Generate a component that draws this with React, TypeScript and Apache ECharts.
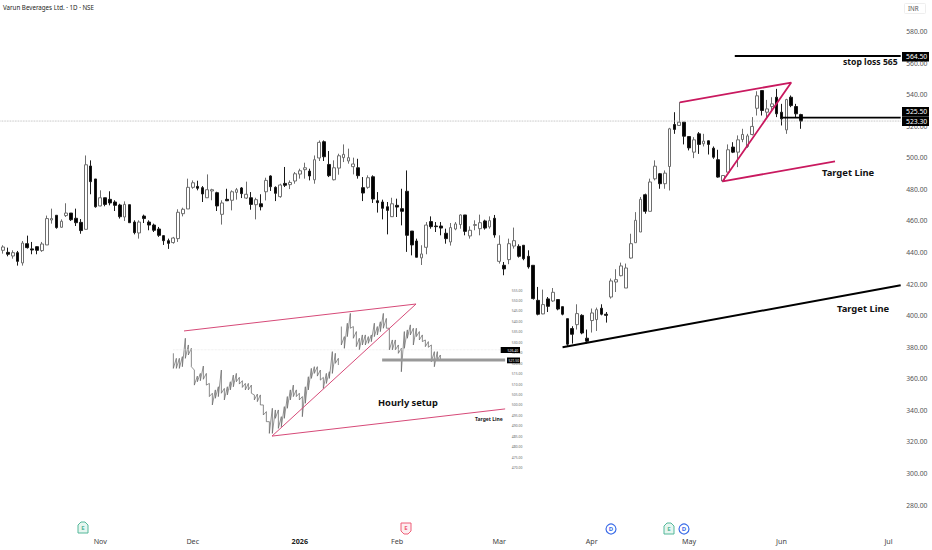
import React, { useEffect, useRef } from "react";
import * as echarts from "echarts";

const title = "Varun Beverages Ltd. · 1D · NSE";
const monthTicks: [number, string][] = [[20, "Nov"], [39, "Dec"], [61, "2026"], [81, "Feb"], [102, "Mar"], [121, "Apr"], [141, "May"], [160, "Jun"], [182, "Jul"]];
const slotCount = 185;

// [open, close, low, high]
const candlesAutumn = [
  [441.4,443.5,439.3,444.6],[440.1,438.9,437.6,443.1],[437.8,439.9,436.1,441.4],[439.9,434.4,431.7,441.0],[433.4,446.0,431.7,447.3],[445.6,443.1,442.5,450.7],[442.3,441.6,438.9,446.7],[443.7,441.4,438.9,443.9],[441.2,445.4,440.4,446.7],[444.8,461.5,444.8,463.4],
  [460.6,461.5,458.3,467.8],[463.6,455.8,455.1,463.6],[456.0,459.8,455.8,461.0],[463.4,465.0,462.5,471.2],[465.0,460.8,460.0,465.0],[461.7,458.9,456.8,467.8],[459.1,453.9,451.9,461.2],[454.7,495.6,454.7,501.5],[494.8,484.9,476.9,498.4],[486.6,469.0,468.4,486.6],
  [469.5,474.7,469.3,479.4],[474.7,470.5,469.3,474.7],[473.7,471.4,469.9,478.8],[472.0,469.9,466.3,473.1],[470.1,462.7,461.5,470.9],[462.5,470.5,460.0,472.4],[470.3,458.9,458.9,470.3],[459.3,452.6,451.5,460.4],[452.4,459.3,448.8,460.4],[463.1,461.5,458.7,464.0],
  [459.3,457.4,454.1,460.4],[457.4,454.1,453.0,458.3],[454.9,450.9,449.9,456.2],[450.7,447.5,444.8,450.9],[447.5,445.8,442.3,448.8],[446.3,449.2,445.6,449.9],[448.8,465.5,446.7,467.4],[464.6,467.4,462.9,468.4],[467.6,481.3,467.6,486.8],[481.3,484.2,480.4,485.7],
  [481.9,480.7,479.4,485.5],[481.1,477.1,472.0,482.1],[474.7,479.8,474.7,489.5],[479.0,479.8,473.1,480.4],[477.9,469.5,466.3,478.5],[464.2,471.4,457.7,473.1],[473.7,472.8,472.6,480.4],[473.1,478.5,466.7,479.4],[478.1,479.8,473.5,480.9],[480.9,477.3,474.5,481.5],
  [474.5,476.9,473.9,484.9],[474.7,470.5,467.1,478.3],[470.3,473.5,461.0,474.7],[470.9,469.0,466.7,476.9],[478.5,485.7,473.0,487.4],
];
const candlesWinter = [
  [488.5,481.7,479.0,488.9],[481.3,477.5,472.6,481.9],[475.4,482.8,474.7,483.6],[483.8,482.6,481.5,494.2],[483.0,484.4,480.2,485.7],[485.3,489.9,483.6,491.0],[489.7,491.8,486.8,493.1],[492.5,493.7,486.8,496.9],[491.6,488.5,485.7,493.1],[486.1,498.8,483.6,501.5],
  [499.9,509.8,498.0,511.0],[510.2,500.7,498.0,511.0],[495.8,488.7,487.8,504.3],[486.1,493.7,485.7,498.4],[493.5,501.3,489.3,502.6],[500.1,502.2,497.3,508.5],[498.0,500.1,496.3,505.8],[494.4,496.1,489.5,500.1],[493.7,488.7,486.8,499.4],[481.1,477.7,472.6,487.8],
  [481.3,487.4,480.4,488.9],[488.0,473.9,471.4,488.9],[472.8,471.6,465.3,478.3],[472.0,468.0,461.0,473.5],[469.0,466.7,451.5,472.0],[462.7,470.9,462.5,474.7],[469.9,468.8,462.5,474.1],[467.8,466.1,457.2,480.4],[478.8,450.9,440.4,492.0],[453.6,444.8,438.2,453.6],
  [447.3,437.0,437.0,448.8],[436.6,439.1,432.1,444.6],[443.3,457.4,438.9,459.3],[459.6,456.4,455.1,462.9],[456.8,456.4,453.0,459.3],[456.8,455.5,450.9,459.3],[452.2,448.8,445.6,455.1],[446.7,455.8,444.4,458.7],[454.9,458.1,454.1,459.3],[457.7,463.8,455.1,464.2],
  [463.8,453.4,450.9,463.8],[450.5,454.1,448.8,456.6],[457.2,457.7,454.1,460.4],[455.1,458.9,450.9,464.0],[460.0,455.5,454.5,460.8],[456.2,460.2,455.1,462.9],[461.7,451.1,449.4,463.8],[434.4,445.2,433.0,450.9],[431.9,429.6,425.6,434.0],[435.5,445.6,432.6,448.8],
  [444.1,447.5,442.5,455.8],[443.9,437.6,436.8,445.2],[444.6,436.1,435.1,444.6],[437.6,430.9,429.8,441.4],
];
const candlesSpring = [
  [431.9,410.8,410.2,431.9],[409.7,400.9,400.2,418.2],[401.1,407.0,400.9,416.5],[410.6,405.9,402.3,411.8],[409.3,414.8,408.7,417.5],[410.2,404.2,403.4,410.2],[405.7,400.9,400.2,405.7],[398.1,381.9,380.8,398.1],[391.8,388.2,382.3,393.3],[394.3,401.3,391.2,407.2],
  [400.2,389.0,388.2,400.9],[385.7,383.8,382.3,391.2],[396.9,401.7,389.3,404.5],[397.5,403.8,390.3,405.1],[404.7,400.9,400.2,407.2],[400.9,400.2,395.6,402.3],[411.8,422.0,410.8,423.5],[421.3,422.8,415.0,429.4],[425.3,431.5,424.9,433.6],[417.5,430.2,417.5,433.0],
  [436.5,445.6,436.1,451.9],[446.2,460.4,446.2,465.6],[453.0,473.7,453.0,475.2],[476.6,466.1,464.6,477.3],[466.1,484.7,466.1,486.8],
];
const candlesSummer = [
  [486.7,494.7,485.7,498.4],[489.9,483.6,480.4,490.4],[483.6,490.3,480.4,492.0],[494.5,518.4,479.3,519.0],[521.1,518.0,515.2,528.9],[520.5,522.6,520.5,535.3],[522.6,513.7,508.5,522.6],[513.5,506.3,504.7,513.5],[503.6,511.4,499.8,513.1],[515.2,508.5,502.5,516.3],
  [508.9,510.6,507.2,515.2],[510.8,508.5,502.1,511.0],[506.1,500.4,499.4,507.2],[498.8,487.8,487.4,505.1],[485.3,488.8,484.6,488.8],[490.9,505.1,490.9,508.5],[506.8,503.6,503.0,509.9],[503.6,511.4,494.1,514.2],[511.6,514.8,509.9,518.4],[507.2,513.9,506.3,515.2],
  [514.8,519.9,514.2,525.8],[531.4,539.3,526.8,542.2],[542.6,530.0,526.8,542.6],[528.9,531.0,525.8,536.7],[532.5,534.2,530.0,538.4],[538.4,527.9,525.8,543.7],[528.9,524.7,520.5,534.2],[517.7,536.9,515.2,537.4],[538.4,533.1,532.1,539.5],[532.5,527.9,525.8,534.2],
  [527.4,523.3,518.4,527.9],
];

// Hourly inset: high / low of each sampled bar
const insetHighs = [524.7,522.3,522.3,523.1,531.9,528.7,527.1,516.7,513.8,515.1,518.6,515.1,510.3,505.6,507.2,508.7,516.7,507.9,508.7,511.1,514.3,515.1,513.2,511.6,510.3,510.3,509.5,504.8,505.2,504.8,500.0,496.8,492.0,498.4,497.6,497.6,494.4,499.2,504.0,507.2,509.5,507.2,505.6,504.0,508.7,513.5,517.5,518.3,518.3,516.7,513.2,515.1,515.9,525.5,524.7,522.3,537.5,532.7,539.1,543.8,537.5,535.1,531.9,533.5,533.5,532.7,533.5,539.1,537.5,539.8,543.8,541.4,536.7,531.1,531.1,528.7,527.1,535.1,535.9,538.3,536.7,536.7,535.1,533.5,531.1,530.3,528.7,525.5,525.5,523.9];
const insetLows = [517.5,517.5,517.5,518.3,522.3,523.9,518.3,509.5,511.1,511.6,512.3,509.5,504.0,500.0,503.2,504.0,505.6,502.4,504.8,507.2,508.7,511.1,510.0,508.4,507.2,507.2,505.6,502.4,501.6,500.0,495.2,492.0,486.4,486.4,493.6,488.8,489.6,493.6,498.4,502.4,504.0,504.0,502.4,494.4,500.8,507.2,512.7,515.1,513.8,511.9,507.9,510.3,512.7,515.1,519.9,519.1,528.7,527.1,532.7,536.7,531.9,527.9,526.3,528.7,528.7,529.5,530.3,532.7,533.5,535.1,536.7,536.7,526.3,526.3,526.3,524.7,515.9,527.1,531.9,533.5,528.7,532.7,531.1,530.3,527.9,527.6,520.7,518.3,521.5,521.2];
const insetBreakAt = 56;

// Drawn trend lines: [bar position, price]
const wedgeLine = [[139.1,535.1],[162,547.7],[147.9,485.1],[171,497.7]];
const stopLossLine = [[150.4,564.5],[184.5,564.5]];
const entryLine = [[160.2,525.5],[184.5,525.5]];
const targetLine = [[115,380],[184.5,419.2]];
const lastPriceLine = [[-0.5,523.3],[184.5,523.3]];
const insetWedgeLine = [[4.06,535.4],[81.4,548.3],[33.4,485.1],[111.1,498.1]];
const insetBandLine = [[70.1,521.5],[111.1,521.5]];
const insetFaintLine = [[0.4,526.4],[111.1,526.4]];

const mainFont = "'Noto Sans', sans-serif";
const black = "#000000";
const pink = "#c9195f";
const insetPink = "#d64a78";
const axisGrey = "#555555";

function App() {
  const ref = useRef<HTMLDivElement>(null);
  useEffect(() => {
    document.body.style.margin = "0";
    const chart = echarts.init(ref.current!, undefined, { renderer: "svg" });
    const categories = Array.from({ length: slotCount }, (_, i) => {
      const t = monthTicks.find((m) => m[0] === i);
      return t ? t[1] : "";
    });
    const candles = [...candlesAutumn, ...candlesWinter, ...candlesSpring, ...candlesSummer];
    const inset = insetHighs.map((h, i) => [insetLows[i], h, insetLows[i], h]);
    const insetTrace: any[] = [];
    insetHighs.forEach((h, i) => {
      if (i === insetBreakAt) insetTrace.push(["-", "-"]);
      insetTrace.push([i + 0.5, h], [i + 0.5, insetLows[i]]);
    });

    const line = (data: any[], color: string, width: number, x: number, y: number, type = "solid") => ({
      type: "line", data, xAxisIndex: x, yAxisIndex: y, showSymbol: false, symbol: "none", silent: true, z: 5,
      lineStyle: { color, width, type },
    });
    const label = (text: string, x: number, y: number, fontSize: number, fontWeight: any = "normal", color = "#111111", fontFamily = mainFont) => ({
      type: "text", x, y, silent: true, z: 20,
      style: { text, x: 0, y: 0, fill: color, fontSize, fontWeight, fontFamily, textVerticalAlign: "middle", textAlign: "left" },
    });
    const priceBox = (text: string, x: number, y: number, w: number, h: number, fs: number, tx: number) => [
      { type: "rect", silent: true, z: 15, shape: { x, y, width: w, height: h }, style: { fill: "#000000" } },
      { type: "text", silent: true, z: 16, x: tx, y: y + h / 2, style: { text, fill: "#ffffff", fontSize: fs, fontFamily: mainFont, textVerticalAlign: "middle", textAlign: "left" } },
    ];
    const shield = (cx: number, cy: number, color: string, fill: string, letter: string, flip: boolean) => {
      const raw = [[-5, -3], [-2, -6], [2, -6], [5, -3], [5, 5], [-5, 5]];
      const pts = raw.map(([a, b]) => [cx + a, cy + (flip ? -b : b)]);
      return [
        { type: "polygon", silent: true, z: 15, shape: { points: pts }, style: { fill, stroke: color, lineWidth: 1 } },
        { type: "text", silent: true, z: 16, x: cx, y: cy, style: { text: letter, fill: color, fontSize: 6, fontWeight: "bold", fontFamily: mainFont, textAlign: "center", textVerticalAlign: "middle" } },
      ];
    };
    const disc = (cx: number, cy: number, color: string, letter: string) => [
      { type: "circle", silent: true, z: 15, shape: { cx, cy, r: 5 }, style: { fill: "#ffffff", stroke: color, lineWidth: 1.2 } },
      { type: "text", silent: true, z: 16, x: cx, y: cy, style: { text: letter, fill: color, fontSize: 6, fontWeight: "bold", fontFamily: mainFont, textAlign: "center", textVerticalAlign: "middle" } },
    ];

    chart.setOption({
      animation: false,
      backgroundColor: "#ffffff",
      textStyle: { fontFamily: mainFont },
      grid: [
        { left: -3, top: -0.6, width: 903.7, height: 537.2 },
        { left: 171.83, top: 290, width: 339, height: 177.65 },
      ],
      xAxis: [
        {
          type: "category", gridIndex: 0, data: categories, boundaryGap: true,
          axisLine: { show: false }, axisTick: { show: false }, splitLine: { show: false },
          axisLabel: {
            interval: 0, margin: 0.5, fontSize: 7.2, color: "#444444", fontFamily: mainFont,
            formatter: (v: string) => (v === "2026" ? "{b|2026}" : v),
            rich: { b: { fontSize: 7.2, fontWeight: "bold", color: "#222222", fontFamily: mainFont } },
          },
        },
        { type: "value", gridIndex: 0, min: -0.5, max: 184.5, show: false },
        { type: "category", gridIndex: 1, data: Array.from({ length: 113 }, (_, i) => String(i)), show: false },
        { type: "value", gridIndex: 1, min: 0, max: 113, show: false },
      ],
      yAxis: [
        {
          type: "value", gridIndex: 0, position: "right", min: 260, max: 600, interval: 20, scale: true,
          axisLine: { show: false }, axisTick: { show: false }, splitLine: { show: false },
          axisLabel: { showMinLabel: false, showMaxLabel: false, margin: 5.5, fontSize: 6.8, color: axisGrey, fontFamily: mainFont, formatter: (v: number) => v.toFixed(2) },
        },
        {
          type: "value", gridIndex: 1, position: "right", min: 470, max: 555, interval: 5, scale: true,
          axisLine: { show: false }, axisTick: { show: false }, splitLine: { show: false },
          axisLabel: { margin: 1, fontSize: 3.4, color: "#666666", fontFamily: mainFont, showMinLabel: true, showMaxLabel: true, formatter: (v: number) => v.toFixed(2) },
        },
      ],
      series: [
        {
          type: "candlestick", xAxisIndex: 0, yAxisIndex: 0, data: candles, barWidth: 3.2, silent: true,
          itemStyle: { color: "#ffffff", color0: "#000000", borderColor: "#6e6e6e", borderColor0: "#1a1a1a", borderWidth: 1 },
        },
        {
          type: "candlestick", xAxisIndex: 2, yAxisIndex: 1, data: inset, barWidth: 1, silent: true,
          itemStyle: { color: "#a8a8a8", color0: "#a8a8a8", borderColor: "#a8a8a8", borderColor0: "#a8a8a8", borderWidth: 0.3 },
        },
        line(insetTrace, "#666666", 0.7, 3, 1),
        line(lastPriceLine, "#a8a8a8", 0.8, 1, 0, "dotted"),
        line(insetFaintLine, "#e2e2e2", 0.7, 3, 1, "dotted"),
        line(insetBandLine, "#999999", 3, 3, 1),
        line(insetWedgeLine, insetPink, 1, 3, 1),
        line(wedgeLine, pink, 1.8, 1, 0),
        line(stopLossLine, black, 2, 1, 0),
        line(entryLine, black, 1.8, 1, 0),
        line(targetLine, black, 2, 1, 0),
      ],
      graphic: [
        label(title, 3, 7, 6.2, "normal", "#222222"),
        { type: "rect", silent: true, z: 10, shape: { x: 904.5, y: 3.5, width: 21, height: 10, r: 1 }, style: { fill: "#ffffff", stroke: "#eeeeee", lineWidth: 1 } },
        label("INR", 908, 8.5, 6.2, "normal", "#555555"),
        ...priceBox("564.50", 902, 52, 27, 9.5, 6.8, 906),
        ...priceBox("525.50", 902, 107, 27, 9.5, 6.8, 906),
        ...priceBox("523.30", 902, 116.5, 27, 9.5, 6.8, 906),
        ...priceBox("526.40", 500.7, 347, 19.3, 6, 3.4, 507.5),
        ...priceBox("521.50", 507, 357.5, 13, 5.8, 3.4, 508.5),
        label("stop loss 565", 843, 62, 8.6, "bold", "#111111"),
        label("Target Line", 822, 172, 9.4, "bold", "#111111"),
        label("Target Line", 837, 308, 9.4, "bold", "#111111"),
        label("Hourly setup", 378, 402, 9.3, "bold", "#111111"),
        label("Target Line", 475, 419, 5, "bold", "#222222"),
        ...shield(83, 528, "#55b89a", "#e6f6f0", "E", false),
        ...shield(406, 528, "#ee5f78", "#fdeef1", "E", true),
        ...disc(611, 529, "#3d6ee8", "D"),
        ...shield(669, 529, "#55b89a", "#e6f6f0", "E", false),
        ...disc(684, 529, "#3d6ee8", "D"),
      ],
    });
    return () => chart.dispose();
  }, []);
  return <div ref={ref} style={{ position: "fixed", left: 0, top: 0, width: 932, height: 550 }} />;
}

export default App;
